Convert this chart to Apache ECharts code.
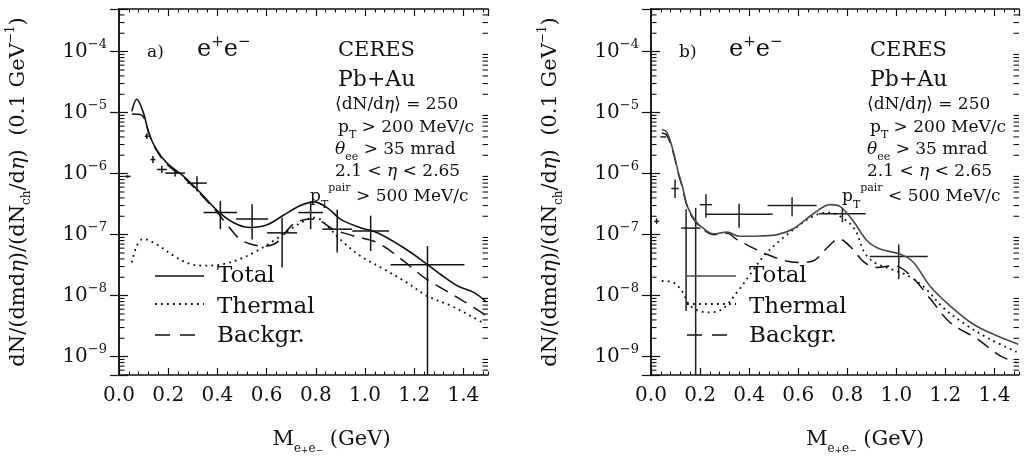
<!DOCTYPE html>
<html>
<head>
<meta charset="utf-8">
<script src="https://cdn.jsdelivr.net/npm/echarts@6.0.0/dist/echarts.min.js"></script>
<style>
html,body{margin:0;padding:0;background:#fff;}
#chart{width:1028px;height:459px;}
</style>
</head>
<body>
<div id="chart"></div>
<script>
// ---------------- data ----------------
const X_MIN = 0, X_MAX = 1.5;
const Y_MIN = 5e-10, Y_MAX = 5e-4;
const X_TICK_LABELS = ['0.0','0.2','0.4','0.6','0.8','1.0','1.2','1.4'];
const Y_TICK_EXPONENTS = [-9,-8,-7,-6,-5,-4];
const SERIES_NAMES = ['Total','Thermal','Backgr.'];
const PANEL_LABELS = ['a)','b)'];
const PT_PAIR_CUT = ['> 500 MeV/c','< 500 MeV/c'];

// panel a : p_T^pair > 500 MeV/c
const aTotalX = [0.052,0.072,0.099,0.12,0.147,0.194,0.262,0.33,0.398,0.466,0.534,0.602,0.67,0.738,0.792,0.847,0.901,0.982,1.05,1.146,1.227,1.309,1.377,1.444,1.49];
const aTotalY = [1.05e-5,1.66e-5,1.0e-5,4.8e-6,2.7e-6,1.5e-6,9.1e-7,4.9e-7,2.5e-7,1.57e-7,1.31e-7,1.45e-7,2.1e-7,3.0e-7,3.45e-7,2.75e-7,1.78e-7,1.3e-7,1.07e-7,6.5e-8,3.9e-8,2.2e-8,1.44e-8,1.12e-8,8.1e-9];
const aThermX = [0.052,0.072,0.099,0.153,0.222,0.29,0.357,0.425,0.493,0.56,0.63,0.697,0.766,0.80,0.847,0.90,0.98,1.078,1.17,1.25,1.35,1.44,1.49];
const aThermY = [3.5e-8,6.5e-8,8.5e-8,6.9e-8,4.5e-8,3.3e-8,3.1e-8,3.3e-8,4.0e-8,5.4e-8,8.0e-8,1.23e-7,1.78e-7,1.9e-7,1.38e-7,8.3e-8,4.5e-8,2.7e-8,1.64e-8,1.0e-8,6.8e-9,4.4e-9,3.4e-9];
const aBackX = [0.052,0.09,0.105,0.125,0.15,0.194,0.262,0.33,0.398,0.44,0.49,0.534,0.59,0.64,0.71,0.78,0.82,0.87,0.955,1.05,1.146,1.25,1.33,1.41,1.49];
const aBackY = [9.5e-6,9.2e-6,7.5e-6,4.2e-6,2.5e-6,1.43e-6,8.7e-7,4.7e-7,2.35e-7,1.45e-7,8.5e-8,7.0e-8,6.5e-8,7.4e-8,1.5e-7,1.8e-7,1.66e-7,1.23e-7,9.5e-8,7.4e-8,4.0e-8,1.86e-8,1.2e-8,7.7e-9,4.8e-9];
const aPtX    = [0.035,0.113,0.138,0.174,0.228,0.317,0.412,0.541,0.663,0.779,0.887,1.023,1.254];
const aPtY    = [9.0e-7,4.1e-6,1.7e-6,1.17e-6,1.02e-6,7.0e-7,2.3e-7,1.8e-7,1.07e-7,2.3e-7,1.23e-7,1.15e-7,3.2e-8];
const aPtXErr = [0.012,0.008,0.01,0.02,0.04,0.04,0.068,0.065,0.061,0.05,0.06,0.075,0.15];
const aPtYLo  = [8.6e-7,3.7e-6,1.5e-6,1.02e-6,9.0e-7,5.1e-7,1.23e-7,8.3e-8,2.9e-8,1.23e-7,5.1e-8,5.4e-8,1e-10];
const aPtYHi  = [9.4e-7,4.6e-6,1.95e-6,1.35e-6,1.15e-6,9.1e-7,3.55e-7,3.16e-7,1.9e-7,3.55e-7,2.57e-7,2.04e-7,6.5e-8];

// panel b : p_T^pair < 500 MeV/c
const bTotalX = [0.044,0.062,0.077,0.095,0.11,0.128,0.15,0.18,0.21,0.254,0.31,0.362,0.444,0.515,0.58,0.662,0.73,0.77,0.825,0.88,0.933,1.015,1.07,1.137,1.219,1.314,1.41,1.497];
const bTotalY = [5.3e-6,4.9e-6,3.6e-6,2.0e-6,1.1e-6,6.2e-7,2.8e-7,1.7e-7,1.3e-7,1.03e-7,1.1e-7,9.4e-8,9.5e-8,1.0e-7,1.25e-7,2.2e-7,3.1e-7,2.9e-7,1.65e-7,8.0e-8,5.8e-8,4.8e-8,3.5e-8,1.44e-8,6.8e-9,3.4e-9,2.2e-9,1.6e-9];
const bThermX = [0.044,0.09,0.13,0.16,0.23,0.29,0.35,0.41,0.46,0.53,0.6,0.66,0.72,0.77,0.83,0.87,0.91,0.98,1.05,1.12,1.19,1.28,1.38,1.49];
const bThermY = [1.74e-8,1.65e-8,1.13e-8,6.8e-9,5.3e-9,6.0e-9,1.13e-8,2.4e-8,4.5e-8,8.3e-8,1.38e-7,2.0e-7,2.3e-7,2.0e-7,1.23e-7,5.1e-8,3.5e-8,2.7e-8,2.1e-8,1.3e-8,6.4e-9,3.4e-9,1.95e-9,1.2e-9];
const bBackX = [0.044,0.062,0.077,0.095,0.11,0.128,0.15,0.18,0.21,0.254,0.31,0.35,0.40,0.47,0.55,0.61,0.66,0.72,0.766,0.81,0.87,0.92,0.99,1.06,1.14,1.22,1.33,1.42,1.49];
const bBackY = [4.6e-6,4.4e-6,3.3e-6,1.9e-6,1.05e-6,5.9e-7,2.7e-7,1.65e-7,1.25e-7,1.0e-7,1.05e-7,8.3e-8,6.5e-8,4.8e-8,3.7e-8,3.5e-8,3.7e-8,6.2e-8,8.5e-8,6.5e-8,3.5e-8,2.9e-8,3.1e-8,2.1e-8,8.7e-9,3.6e-9,1.95e-9,1.05e-9,8.0e-10];
const bPtX    = [0.023,0.05,0.098,0.143,0.182,0.224,0.359,0.575,0.78,1.01];
const bPtY    = [1.65e-7,4.0e-6,5.7e-7,1.28e-7,1.28e-7,3.1e-7,2.15e-7,3.0e-7,2.2e-7,4.4e-8];
const bPtXErr = [0.01,0.012,0.015,0.02,0.02,0.025,0.137,0.1,0.095,0.118];
const bPtYLo  = [1.5e-7,4.0e-6,4.0e-7,5.6e-9,1e-10,1.9e-7,1.3e-7,2.0e-7,1.6e-7,1.86e-8];
const bPtYHi  = [1.85e-7,4.0e-6,8.0e-7,2.6e-7,2.75e-7,4.6e-7,3.2e-7,4.1e-7,2.7e-7,6.9e-8];

// ---------------- styling / layout ----------------
const FONT = 'DejaVu Serif';
const INK = '#111';
const TOTAL_COLOR = ['#111', '#4a4a4a'];
const GRIDS = [
  {left: 119, top: 9, width: 369, height: 366},
  {left: 651, top: 9, width: 368, height: 366}
];
const NAME_SHIFT = [56, 60];

const zip = (xs, ys) => xs.map((x, i) => [x, ys[i]]);
const pts = (X, Y, DX, LO, HI) => X.map((x, i) => [x, Y[i], DX[i], LO[i], HI[i]]);

const PANELS = [
  {total: zip(aTotalX, aTotalY), therm: zip(aThermX, aThermY), back: zip(aBackX, aBackY),
   pts: pts(aPtX, aPtY, aPtXErr, aPtYLo, aPtYHi)},
  {total: zip(bTotalX, bTotalY), therm: zip(bThermX, bThermY), back: zip(bBackX, bBackY),
   pts: pts(bPtX, bPtY, bPtXErr, bPtYLo, bPtYHi)}
];

// log minor tick values (2..9 x 10^n) inside the axis range
const Y_MINOR_VALUES = [];
for (let e = -10; e <= -4; e++) {
  for (let m = 2; m <= 9; m++) {
    const v = m * Math.pow(10, e);
    if (v > Y_MIN && v < Y_MAX) Y_MINOR_VALUES.push(v);
  }
}

function xLabel(v) {
  const i = Math.round(v / 0.2);
  if (Math.abs(v - i * 0.2) > 1e-6 || i < 0 || i >= X_TICK_LABELS.length) return '';
  return X_TICK_LABELS[i];
}
function yLabel(v) {
  const e = Math.log10(v), r = Math.round(e);
  if (Math.abs(e - r) > 1e-4 || Y_TICK_EXPONENTS.indexOf(r) < 0) return '';
  return '10{sup|−' + (-r) + '}';
}

const xAxes = [], yAxes = [];
GRIDS.forEach((g, gi) => {
  const base = {gridIndex: gi, type: 'value', min: X_MIN, max: X_MAX, splitLine: {show: false}};
  const lineOn = {show: true, lineStyle: {color: INK, width: 1.5}};
  xAxes.push(
    Object.assign({}, base, {
      position: 'bottom', interval: 0.2, axisLine: lineOn,
      axisTick: {show: true, inside: true, length: 7, lineStyle: {color: INK, width: 1.2}},
      axisLabel: {show: true, margin: 11, fontSize: 20, fontFamily: FONT, color: INK,
                  showMaxLabel: false, formatter: xLabel},
      name: 'M{sub|e}{ss|+}{sub|e}{ss|−} (GeV)', nameLocation: 'middle', nameGap: 50,
      nameTextStyle: {fontSize: 21, fontFamily: FONT, color: INK, lineHeight: 30,
        padding: [0, 0, 0, NAME_SHIFT[gi]],
        rich: {
          sub: {fontSize: 12, lineHeight: 10, verticalAlign: 'bottom', fontFamily: FONT, color: INK},
          ss: {fontSize: 9, lineHeight: 27, verticalAlign: 'bottom', fontFamily: FONT, color: INK}
        }}
    }),
    Object.assign({}, base, {
      position: 'bottom', interval: 0.04, axisLine: {show: false},
      axisTick: {show: true, inside: true, length: 3.5, lineStyle: {color: INK, width: 1}},
      axisLabel: {show: false}
    }),
    Object.assign({}, base, {
      position: 'top', interval: 0.2, axisLine: lineOn,
      axisTick: {show: true, inside: true, length: 7, lineStyle: {color: INK, width: 1.2}},
      axisLabel: {show: false}
    }),
    Object.assign({}, base, {
      position: 'top', interval: 0.04, axisLine: {show: false},
      axisTick: {show: true, inside: true, length: 3.5, lineStyle: {color: INK, width: 1}},
      axisLabel: {show: false}
    })
  );
  const ybase = {gridIndex: gi, type: 'log', min: Y_MIN, max: Y_MAX, splitNumber: 6,
    splitLine: {show: false}, axisLine: lineOn,
    axisTick: {show: true, inside: true, length: 9, lineStyle: {color: INK, width: 1.2}}};
  yAxes.push(
    Object.assign({}, ybase, {
      position: 'left',
      axisLabel: {show: true, margin: 12, fontSize: 20, fontFamily: FONT, color: INK, lineHeight: 28,
        formatter: yLabel,
        rich: {sup: {fontSize: 13, lineHeight: 13, verticalAlign: 'top', fontFamily: FONT, color: INK}}},
      name: 'dN/(dmd{it|η})/(dN{sub|ch}/d{it|η})  (0.1 GeV{sup|−1})',
      nameLocation: 'middle', nameRotate: 90, nameGap: 86,
      nameTextStyle: {fontSize: 21, fontFamily: FONT, color: INK, lineHeight: 28,
        rich: {
          it: {fontSize: 21, fontStyle: 'italic', fontFamily: FONT, color: INK},
          sub: {fontSize: 12, lineHeight: 10, verticalAlign: 'bottom', fontFamily: FONT, color: INK},
          sup: {fontSize: 12, lineHeight: 12, verticalAlign: 'top', fontFamily: FONT, color: INK}
        }}
    }),
    Object.assign({}, ybase, {position: 'right', axisLabel: {show: false}})
  );
});

function errRenderFactory(color) {
  return function (params, api) {
    const x = api.value(0), y = api.value(1), dx = api.value(2);
    const lo = Math.max(api.value(3), Y_MIN), hi = Math.min(api.value(4), Y_MAX);
    const l = api.coord([x - dx, y]), r = api.coord([x + dx, y]);
    const t = api.coord([x, hi]), b = api.coord([x, lo]);
    const st = {stroke: color, lineWidth: 1.5};
    return {type: 'group', children: [
      {type: 'line', shape: {x1: l[0], y1: l[1], x2: r[0], y2: r[1]}, style: st},
      {type: 'line', shape: {x1: t[0], y1: t[1], x2: b[0], y2: b[1]}, style: st}
    ]};
  };
}

const series = [];
PANELS.forEach((p, gi) => {
  const xi = gi * 4, yi = gi * 2;
  const common = {type: 'line', xAxisIndex: xi, yAxisIndex: yi, showSymbol: false, symbol: 'none',
                  smooth: 0.35, silent: true, animation: false, clip: true};
  series.push(
    Object.assign({}, common, {name: SERIES_NAMES[1], data: p.therm,
      lineStyle: {color: INK, width: 1.8, type: [1.8, 4.2]}}),
    Object.assign({}, common, {name: SERIES_NAMES[2], data: p.back,
      lineStyle: {color: INK, width: 1.5, type: [14, 8]}}),
    Object.assign({}, common, {name: SERIES_NAMES[0], data: p.total,
      lineStyle: {color: TOTAL_COLOR[gi], width: 1.6, type: 'solid'}}),
    {type: 'custom', xAxisIndex: xi, yAxisIndex: yi, silent: true,
     encode: {x: 0, y: 1},
     renderItem: errRenderFactory(gi ? '#222' : INK), data: p.pts}
  );
});

function mkRich(fs) {
  return {
    sub: {fontSize: 11, lineHeight: 9, verticalAlign: 'bottom', fontFamily: FONT, fill: INK},
    sup: {fontSize: 11, lineHeight: 11, verticalAlign: 'top', fontFamily: FONT, fill: INK},
    it: {fontSize: fs, fontStyle: 'italic', fontFamily: FONT, fill: INK}
  };
}
function label(x, y, text, fs, lh, rich) {
  return {type: 'text', silent: true, z: 10, style: {
    x: x, y: y, text: text, fontSize: fs, fontFamily: FONT, fill: INK,
    lineHeight: lh || fs, align: 'left', textAlign: 'left',
    verticalAlign: 'middle', textVerticalAlign: 'middle', rich: rich || {}}};
}

const graphics = [];
GRIDS.forEach((g, gi) => {
  const L = g.left;
  const r17 = mkRich(17);
  graphics.push(
    label(L + 28, 53, PANEL_LABELS[gi], 17),
    label(L + 78, 50, 'e{sup|+}e{sup|−}', 24, 30,
      {sup: {fontSize: 15, lineHeight: 15, verticalAlign: 'top', fontFamily: FONT, fill: INK}}),
    label(L + 219, 51, 'CERES', 21),
    label(L + 219, 80, 'Pb+Au', 22),
    label(L + 216, 105, '⟨dN/d{it|η}⟩ = 250', 17, 17, r17),
    label(L + 219, 128, 'p{sub|T} > 200 MeV/c', 17, 25, r17),
    label(L + 216, 150, '{it|θ}{sub|ee} > 35 mrad', 17, 25, r17),
    label(L + 216, 172, '2.1 < {it|η} < 2.65', 17, 17, r17),
    label(L + 191, 197, 'p{sub|T}{sup|pair} ' + PT_PAIR_CUT[gi], 17, 28, r17),
    // legend
    {type: 'line', silent: true, z: 10, shape: {x1: L + 36, y1: 276, x2: L + 85, y2: 276},
     style: {stroke: TOTAL_COLOR[gi], lineWidth: 1.6}},
    {type: 'line', silent: true, z: 10, shape: {x1: L + 36, y1: 304, x2: L + 85, y2: 304},
     style: {stroke: INK, lineWidth: 1.8, lineDash: [1.8, 4.2]}},
    {type: 'line', silent: true, z: 10, shape: {x1: L + 36, y1: 335, x2: L + 80, y2: 335},
     style: {stroke: INK, lineWidth: 1.5, lineDash: [15, 10]}},
    label(L + 98, 276, SERIES_NAMES[0], 23),
    label(L + 98, 307, SERIES_NAMES[1], 23),
    label(L + 98, 336, SERIES_NAMES[2], 23)
  );
});

const chart = echarts.init(document.getElementById('chart'), null, {renderer: 'canvas'});
chart.setOption({
  animation: false,
  backgroundColor: '#fff',
  textStyle: {fontFamily: FONT, color: INK},
  grid: GRIDS.map(g => Object.assign({containLabel: false, outerBoundsMode: 'none'}, g)),
  xAxis: xAxes,
  yAxis: yAxes,
  series: series
});

// log-axis minor ticks (2..9 per decade) placed through the y-axis scale
GRIDS.forEach((g, gi) => {
  const yAxisIdx = gi * 2;
  Y_MINOR_VALUES.forEach(v => {
    let py = chart.convertToPixel({yAxisIndex: yAxisIdx}, v);
    if (Array.isArray(py)) py = py[1];
    if (typeof py !== 'number' || !isFinite(py)) {
      // fallback: same log mapping the axis uses
      const lmin = Math.log10(Y_MIN), lmax = Math.log10(Y_MAX);
      py = g.top + g.height * (lmax - Math.log10(v)) / (lmax - lmin);
    }
    const x0 = g.left, x1 = g.left + g.width;
    graphics.push(
      {type: 'line', silent: true, z: 20, shape: {x1: x0, y1: py, x2: x0 + 5.5, y2: py},
       style: {stroke: INK, lineWidth: 1.1}},
      {type: 'line', silent: true, z: 20, shape: {x1: x1 - 5.5, y1: py, x2: x1, y2: py},
       style: {stroke: INK, lineWidth: 1.1}}
    );
  });
});
chart.setOption({graphic: {elements: graphics}});
</script>
</body>
</html>
